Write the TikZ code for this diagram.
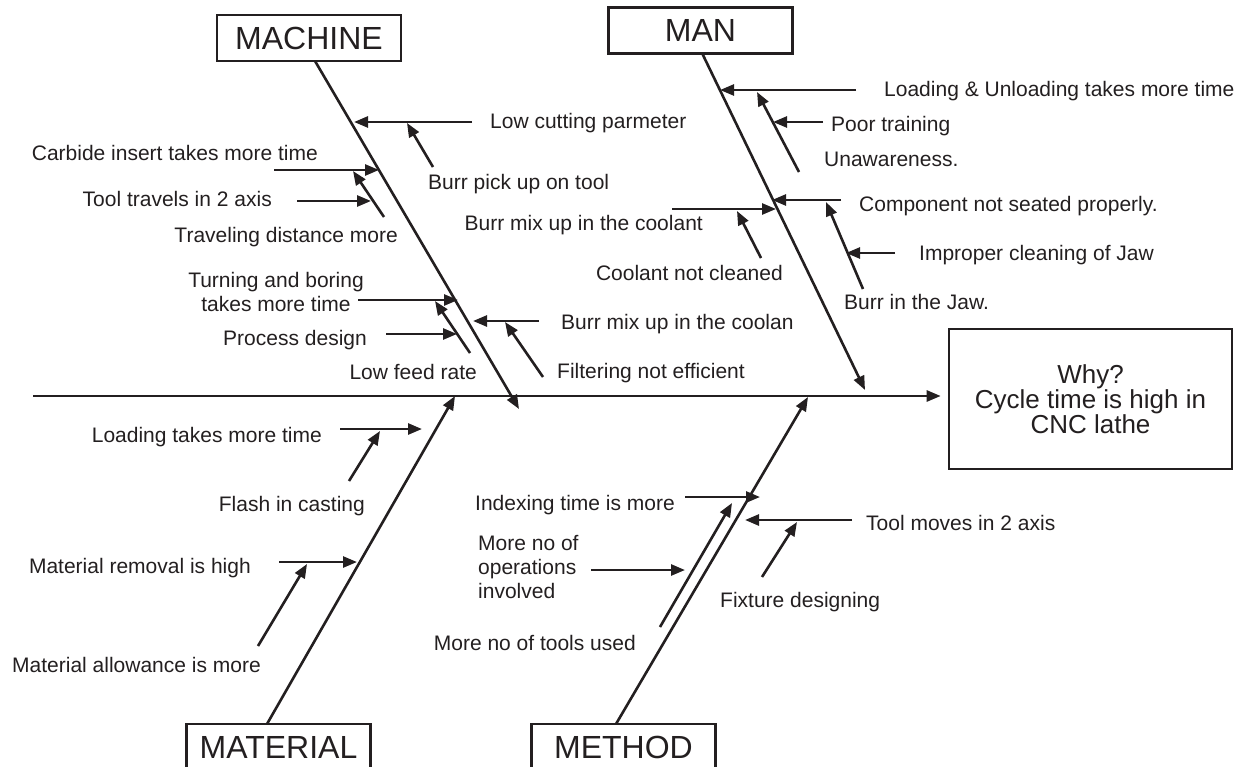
\documentclass[tikz,border=0pt]{standalone}
\usepackage{fontspec}
\setmainfont{Liberation Sans}
\usetikzlibrary{arrows.meta}
\definecolor{ink}{HTML}{231F20}
\begin{document}
\begin{tikzpicture}[x=1pt,y=-1pt,
  bone/.style={draw=ink, line width=2.6pt},
  arr/.style={bone, -{Triangle[length=14pt,width=11pt]}},
  cause/.style={font=\fontsize{21}{23.5}\selectfont, text=ink, inner sep=0pt},
  catbox/.style={draw=ink, line width=2.6pt, minimum width=184pt, minimum height=46pt,
    inner sep=0pt, font=\fontsize{32}{36}\selectfont, text=ink},
  effectbox/.style={draw=ink, line width=2.6pt, minimum width=283pt, minimum height=140pt,
    inner sep=0pt, align=center, font=\fontsize{26}{25}\selectfont, text=ink}]
\clip (0,0) rectangle (1246,767);

% ---------- category boxes and the effect ----------
\node[catbox] (machine) at (309,38) {MACHINE};
\node[catbox] (man) at (700.5,30.5) {MAN};
\node[catbox] (material) at (278.5,747) {MATERIAL};
\node[catbox] (method) at (623.5,747) {METHOD};
\node[effectbox] (effect) at (1090.5,399) {Why?\\Cycle time is high in\\CNC lathe};

% ---------- spine ----------
\coordinate (spineStart) at (33,396);
\draw[bone, -{Triangle[length=14pt,width=11pt]}, shorten >=7pt] (spineStart) -- (spineStart -| effect.west);

% ---------- main bones ----------
\coordinate (machineFoot) at (315,61);   \coordinate (machineTip) at (519,409);
\coordinate (manFoot) at (702,53);       \coordinate (manTip) at (865,390);
\coordinate (materialFoot) at (267,724); \coordinate (materialTip) at (455,396);
\coordinate (methodFoot) at (616,724);   \coordinate (methodTip) at (808,397);
\draw[arr] (machineFoot) -- (machineTip);
\draw[arr] (manFoot) -- (manTip);
\draw[arr] (materialFoot) -- (materialTip);
\draw[arr] (methodFoot) -- (methodTip);

% ---------- MACHINE causes ----------
\node[cause, anchor=base west] (lLowCut) at (490,129) {Low cutting parmeter};
\node[cause, anchor=base west] (lBurrPick) at (428,190) {Burr pick up on tool};
\node[cause, anchor=base east] (lCarbide) at (318,161) {Carbide insert takes more time};
\node[cause, anchor=base east] (lTravDist) at (398,242) {Traveling distance more};
\node[cause, anchor=base east] (lToolTrav) at (272,207) {Tool travels in 2 axis};
\node[cause, align=center] (lTurning) at (276,292) {Turning and boring\\takes more time};
\node[cause, anchor=base east] (lFeed) at (477,379) {Low feed rate};
\node[cause, anchor=base east] (lProcess) at (367,345) {Process design};
\node[cause, anchor=base west] (lBurrCoolan) at (561,329) {Burr mix up in the coolan};
\node[cause, anchor=base west] (lFilter) at (557,378) {Filtering not efficient};

\coordinate (mLowCutS) at (472,122);  \coordinate (mLowCutT) at (354,122);
\coordinate (mBurrPickS) at (433,167); \coordinate (mBurrPickT) at (407,123);
\coordinate (mCarbideS) at (274,170); \coordinate (mCarbideT) at (379,170);
\coordinate (mTravS) at (384,217);    \coordinate (mTravT) at (353,171);
\coordinate (mToolS) at (297,201);    \coordinate (mToolT) at (371,201);
\coordinate (mTurnS) at (358,300);    \coordinate (mTurnT) at (458,300);
\coordinate (mFeedS) at (470,353);    \coordinate (mFeedT) at (435,301);
\coordinate (mProcS) at (386,334);    \coordinate (mProcT) at (457,334);
\coordinate (mCoolanS) at (539,321);  \coordinate (mCoolanT) at (473,321);
\coordinate (mFilterS) at (543,377);  \coordinate (mFilterT) at (505,322);
\foreach \c in {mLowCut,mBurrPick,mCarbide,mTrav,mTool,mTurn,mFeed,mProc,mCoolan,mFilter}
  \draw[arr] (\c S) -- (\c T);

% ---------- MAN causes ----------
\node[cause, anchor=base west] (lLoadUnload) at (884,97) {Loading \& Unloading takes more time};
\node[cause, anchor=base west] (lTraining) at (831,132) {Poor training};
\node[cause, anchor=base west] (lUnaware) at (824,167) {Unawareness.};
\node[cause, anchor=base west] (lSeated) at (859,212) {Component not seated properly.};
\node[cause, anchor=base west] (lJawClean) at (919,260) {Improper cleaning of Jaw};
\node[cause, anchor=base west] (lJawBurr) at (844,309) {Burr in the Jaw.};
\node[cause, anchor=base east] (lBurrCoolant) at (703,231) {Burr mix up in the coolant};
\node[cause, anchor=base east] (lCoolant) at (783,280) {Coolant not cleaned};

\coordinate (nLoadS) at (856,90);     \coordinate (nLoadT) at (720,90);
\coordinate (nAwareS) at (799,172);   \coordinate (nAwareT) at (757,92);
\coordinate (nTrainS) at (823,122);   \coordinate (nTrainT) at (773,122);
\coordinate (nSeatS) at (841,200);    \coordinate (nSeatT) at (772,200);
\coordinate (nJawBurrS) at (863,289); \coordinate (nJawBurrT) at (826,202);
\coordinate (nJawCleanS) at (895,253);\coordinate (nJawCleanT) at (846,253);
\coordinate (nCoolantS) at (672,209); \coordinate (nCoolantT) at (776,209);
\coordinate (nCleanS) at (761,258);   \coordinate (nCleanT) at (737,211);
\foreach \c in {nLoad,nAware,nTrain,nSeat,nJawBurr,nJawClean,nCoolant,nClean}
  \draw[arr] (\c S) -- (\c T);

% ---------- MATERIAL causes ----------
\node[cause, anchor=base east] (lLoading) at (322,442) {Loading takes more time};
\node[cause, anchor=base east] (lFlash) at (365,511) {Flash in casting};
\node[cause, anchor=base east] (lRemoval) at (251,573) {Material removal is high};
\node[cause, anchor=base east] (lAllowance) at (261,672) {Material allowance is more};

\coordinate (tLoadS) at (340,429);    \coordinate (tLoadT) at (422,429);
\coordinate (tFlashS) at (349,481);   \coordinate (tFlashT) at (380,431);
\coordinate (tRemoveS) at (279,562);  \coordinate (tRemoveT) at (357,562);
\coordinate (tAllowS) at (258,646);   \coordinate (tAllowT) at (307,564);
\foreach \c in {tLoad,tFlash,tRemove,tAllow}
  \draw[arr] (\c S) -- (\c T);

% ---------- METHOD causes ----------
\node[cause, anchor=base east] (lIndexing) at (675,510) {Indexing time is more};
\node[cause, anchor=west, align=left, font=\fontsize{21}{24}\selectfont] (lOperations) at (478,567) {More no of\\operations\\involved};
\node[cause, anchor=base east] (lTools) at (636,650) {More no of tools used};
\node[cause, anchor=base west] (lToolMoves) at (866,530) {Tool moves in 2 axis};
\node[cause, anchor=base west] (lFixture) at (720,607) {Fixture designing};

\coordinate (dIndexS) at (685,497);   \coordinate (dIndexT) at (760,497);
\coordinate (dToolsS) at (660,627);   \coordinate (dToolsT) at (732,503);
\coordinate (dOpsS) at (591,570);     \coordinate (dOpsT) at (685,570);
\coordinate (dMovesS) at (852,520);   \coordinate (dMovesT) at (745,520);
\coordinate (dFixS) at (762,577);     \coordinate (dFixT) at (797,522);
\foreach \c in {dIndex,dTools,dOps,dMoves,dFix}
  \draw[arr] (\c S) -- (\c T);
\end{tikzpicture}
\end{document}
